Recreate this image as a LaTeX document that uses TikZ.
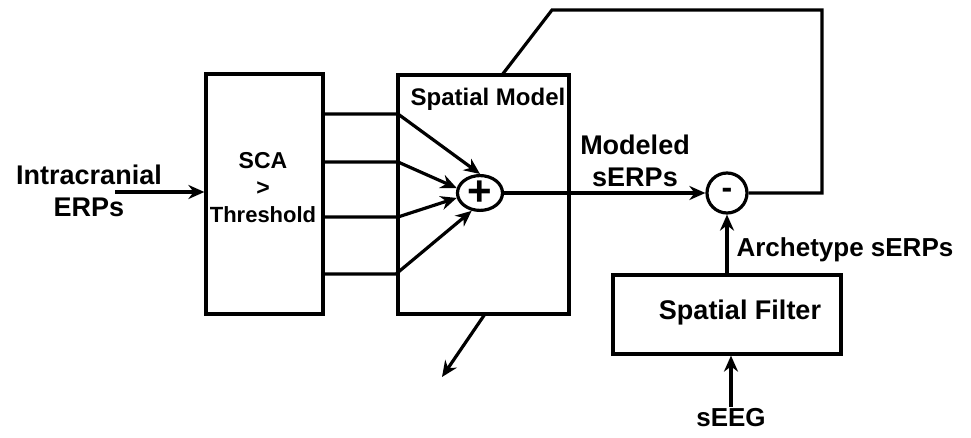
\documentclass[tikz,border=0pt]{standalone}
\usepackage{fontspec}
\setmainfont{Liberation Sans}
\usetikzlibrary{arrows.meta,shapes.geometric}

\begin{document}
\begin{tikzpicture}[x=0.5pt,y=-0.5pt,line width=1.6pt,
  box/.style={draw,rectangle,inner sep=0pt},
  lbl/.style={font=\bfseries\fontsize{13.5}{16}\selectfont,align=center,inner sep=0pt},
  arr/.style={-{Stealth[length=8pt,width=7pt]}}]
\useasboundingbox (0,0) rectangle (971,438);

% Blocks
\node [box,minimum width=58.5pt,minimum height=120pt] (sca) at (264.5,194) {};
\node [lbl,font=\bfseries\fontsize{11.5}{13.5}\selectfont] (scatext) at (263,188)
      {SCA\\>\\{\fontsize{11}{13.5}\selectfont Threshold}};
\node [box,minimum width=85.5pt,minimum height=119.5pt] (model) at (483.5,194.5) {};
\node [lbl,anchor=west,font=\bfseries\fontsize{12}{14}\selectfont] (mtitle) at (409,99) {Spatial Model};
\node [box,minimum width=114pt,minimum height=39.5pt] (filter) at (727,314.5) {};
\node [lbl] (ftext) at (740,313) {Spatial Filter};

% Summing and difference junctions
\node [draw,ellipse,minimum width=22.5pt,minimum height=15pt,inner sep=0pt,
       font=\bfseries\fontsize{21}{21}\selectfont] (sum) at (480,193) {+};
\node [draw,circle,minimum size=20pt,inner sep=0pt,
       font=\bfseries\fontsize{16}{16}\selectfont] (diff) at (727,193) {-};

% Text labels
\node [lbl] (input) at (89,191) {Intracranial\\ERPs};
\node [lbl] (modeled) at (635,161) {Modeled\\sERPs};
\node [lbl,anchor=west,font=\bfseries\fontsize{13}{15}\selectfont] (arch) at (735,250) {Archetype sERPs};
\node [lbl,font=\bfseries\fontsize{13}{15}\selectfont] (seeg) at (731,418) {sEEG};

% Free ends
\coordinate (in) at (115,192);
\coordinate (s1) at (323,114);  \coordinate (m1) at (398,114);
\coordinate (s2) at (323,162);  \coordinate (m2) at (398,162);
\coordinate (s3) at (323,217);  \coordinate (m3) at (398,217);
\coordinate (s4) at (323,274);  \coordinate (m4) at (396,274);
\coordinate (fbr) at (822,10);
\coordinate (fbl) at (552,10);
\coordinate (fbend) at (502,75);
\coordinate (mout) at (485,314);
\coordinate (outend) at (442,377);

% Connectors
\draw [arr] (in) -- (sca.west |- in);
\draw [arr] (s1) -- (m1) -- (sum.north);
\draw [arr] (s2) -- (m2) -- (sum.168);
\draw [arr] (s3) -- (m3) -- (sum.192);
\draw [arr] (s4) -- (m4) -- (sum.245);
\draw [arr] (sum.east) -- (diff.west);
\draw (diff.east) -| (fbr) -- (fbl) -- (fbend);
\draw [arr] (mout) -- (outend);
\draw [arr] (filter.north) -- (diff.south);
\draw [arr] (seeg.north) -- (seeg.north |- filter.south);

\end{tikzpicture}
\end{document}
